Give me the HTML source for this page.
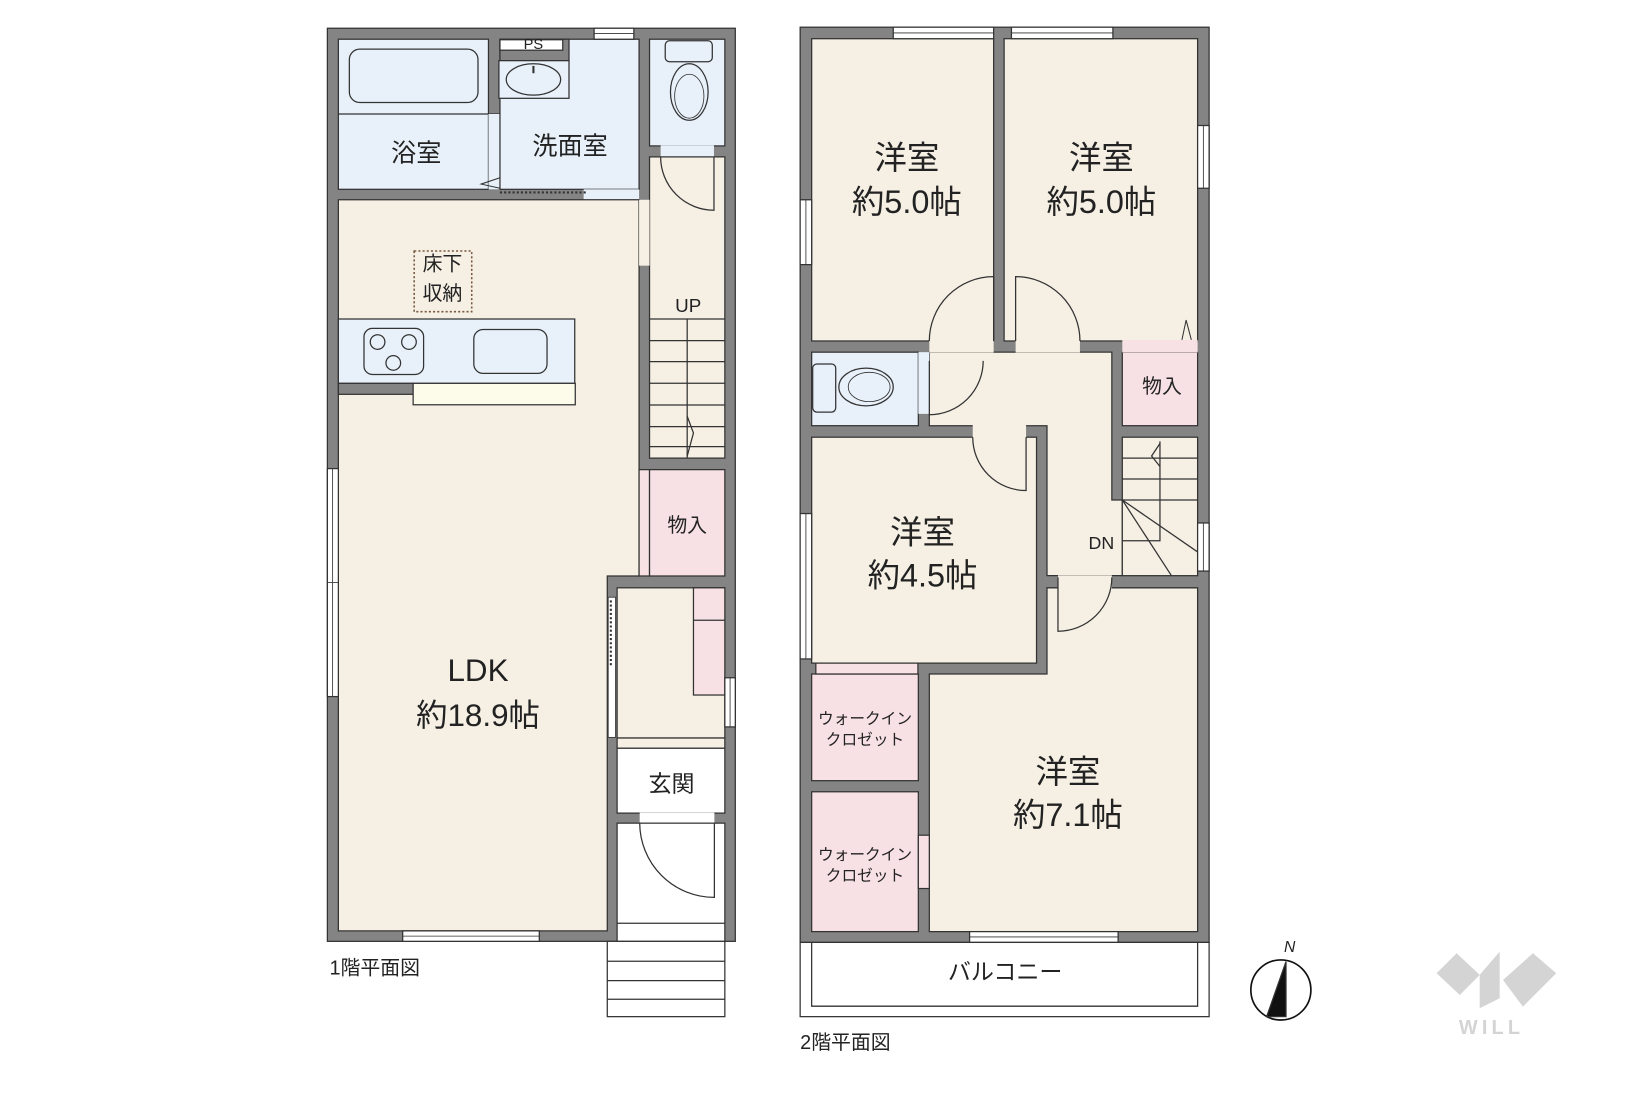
<!DOCTYPE html>
<html><head><meta charset="utf-8"><style>
html,body{margin:0;padding:0;background:#fff;}
svg{display:block;}
text{font-family:"Liberation Sans","Noto Sans CJK JP",sans-serif;fill:#222;text-anchor:middle;dominant-baseline:central;}
</style></head><body>
<svg width="1639" height="1093" viewBox="0 0 1567 1045" preserveAspectRatio="none" xmlns="http://www.w3.org/2000/svg">
<rect x="0" y="0" width="1567" height="1045" fill="#fff"/>
<g stroke="#333" stroke-width="1.2">
<!-- ===== 1F ===== -->
<rect x="313" y="27" width="390" height="873" fill="#848484"/>
<rect x="323.5" y="37.5" width="143.5" height="143.5" fill="#e8f1fa"/>
<line x1="323.5" y1="109" x2="478" y2="109"/>
<rect x="334" y="47" width="123" height="51" rx="10" fill="#e8f1fa"/>
<rect x="467" y="109" width="11" height="72" fill="#e8f1fa" stroke="none"/>
<polyline points="478,170 460,176 478,180" fill="none" stroke-width="1"/>
<rect x="478" y="37.5" width="133" height="143.5" fill="#e8f1fa"/>
<rect x="478" y="37.5" width="66" height="20.5" fill="#848484"/>
<rect x="478" y="38" width="60" height="10" fill="#fff"/>
<rect x="477" y="58" width="67" height="36" fill="#e8f1fa"/>
<ellipse cx="510" cy="76" rx="26" ry="15" fill="#e8f1fa"/>
<line x1="510" y1="63" x2="510" y2="70" stroke-width="2"/>
<rect x="568" y="27" width="38" height="10.5" fill="#fff"/>
<line x1="568" y1="32" x2="606" y2="32" stroke-width="0.8"/>
<rect x="558" y="181" width="53" height="10" fill="#e8f1fa" stroke="none"/>
<line x1="478" y1="184" x2="562" y2="184" stroke-dasharray="2,2" stroke-width="2"/>
<rect x="621" y="37.5" width="72" height="102" fill="#e8f1fa"/>
<rect x="636" y="39" width="45" height="20" rx="4" fill="#e8f1fa"/>
<ellipse cx="659" cy="88" rx="18" ry="27" fill="#e8f1fa"/>
<ellipse cx="659" cy="92" rx="14" ry="21" fill="none" stroke-width="0.8"/>
<rect x="631.6" y="139" width="51" height="11.5" fill="#e8f1fa" stroke="none"/>
<rect x="621" y="150" width="72" height="288" fill="#f5efe4"/>
<path d="M631.6,150 A51,51 0 0 0 682.6,201 L682.6,150" fill="none"/>
<g fill="none">
<line x1="621" y1="305" x2="693" y2="305"/><line x1="621" y1="325.7" x2="693" y2="325.7"/>
<line x1="621" y1="345.8" x2="693" y2="345.8"/><line x1="621" y1="366.4" x2="693" y2="366.4"/>
<line x1="621" y1="387.2" x2="693" y2="387.2"/><line x1="621" y1="407.9" x2="693" y2="407.9"/>
<line x1="621" y1="427" x2="693" y2="427"/>
<line x1="657" y1="305" x2="657" y2="438"/>
<polyline points="657,398 663,414 657,436"/>
</g>
<polygon points="323.5,191 611,191 611,550.7 580.6,550.7 580.6,890 323.5,890" fill="#f5efe4"/>
<rect x="611" y="191" width="10" height="63" fill="#f5efe4" stroke="none"/>
<rect x="323.5" y="305" width="226" height="61.5" fill="#e8f1fa"/>
<rect x="323.5" y="366.5" width="71.5" height="10.5" fill="#848484"/>
<rect x="395" y="366.5" width="155" height="20.5" fill="#fdfbe9"/>
<rect x="348" y="314" width="57" height="44" rx="8" fill="#e8f1fa"/>
<circle cx="361" cy="327" r="7" fill="none"/><circle cx="391" cy="327" r="7" fill="none"/><circle cx="376" cy="347" r="7" fill="none"/>
<rect x="453" y="315" width="70" height="42" rx="9" fill="#e8f1fa"/>
<rect x="396" y="240" width="55" height="58" fill="none" stroke="#7a5a40" stroke-dasharray="2,2" stroke-width="1.5"/>
<rect x="611" y="449" width="10" height="101.7" fill="#f7e1e4"/>
<rect x="621" y="449" width="72" height="101.7" fill="#f7e1e4"/>
<rect x="590" y="562" width="103" height="143.6" fill="#f5efe4"/>
<rect x="663" y="562" width="30" height="102.5" fill="#f7e1e4"/>
<line x1="663" y1="593" x2="693" y2="593"/>
<rect x="581.5" y="571" width="7" height="134" fill="#fff" stroke-width="0.8"/>
<line x1="584" y1="574" x2="584" y2="636" stroke-dasharray="2,2" stroke-width="2"/>
<rect x="590" y="705.6" width="103" height="9.8" fill="#f5efe4"/>
<rect x="590" y="715.4" width="103" height="62" fill="#fff"/>
<rect x="611.6" y="777" width="71.4" height="10" fill="#fff" stroke="none"/>
<rect x="590" y="787" width="103" height="113" fill="#fff"/>
<line x1="590" y1="882.7" x2="693" y2="882.7"/>
<path d="M611.6,787 A71.4,71.4 0 0 0 683,858 L683,787" fill="none"/>
<rect x="385" y="890" width="130.6" height="10" fill="#fff"/>
<line x1="385" y1="895" x2="515.6" y2="895" stroke-width="0.8"/>
<rect x="313" y="448" width="10.5" height="218" fill="#fff"/>
<line x1="318" y1="448" x2="318" y2="666" stroke-width="0.8"/>
<line x1="313" y1="557" x2="323.5" y2="557" stroke-width="0.8"/>
<rect x="693" y="648" width="10" height="47" fill="#fff"/>
<line x1="698" y1="648" x2="698" y2="695" stroke-width="0.8"/>
<rect x="580.6" y="900" width="112.4" height="72" fill="#fff"/>
<line x1="580.6" y1="919" x2="693" y2="919"/><line x1="580.6" y1="937.6" x2="693" y2="937.6"/><line x1="580.6" y1="955.4" x2="693" y2="955.4"/>

<!-- ===== 2F ===== -->
<rect x="765" y="26" width="391" height="875" fill="#848484"/>
<rect x="776" y="37" width="174" height="289" fill="#f5efe4"/>
<rect x="960" y="37" width="185" height="289" fill="#f5efe4"/>
<polyline points="1130,325 1134,306 1139,325" fill="none" stroke-width="1"/>
<polygon points="888.5,336.7 1063,336.7 1063,478 1073,478 1073,550.4 1001,550.4 1001,407 888.5,407" fill="#f5efe4"/>
<rect x="888.5" y="325" width="61.5" height="12" fill="#f5efe4" stroke="none"/>
<rect x="971" y="325" width="61.5" height="12" fill="#f5efe4" stroke="none"/>
<path d="M888.5,326 A61.5,61.5 0 0 1 950,264.5 L950,326" fill="none"/>
<path d="M1032.5,326 A61.5,61.5 0 0 0 971,264.5 L971,326" fill="none"/>
<rect x="776" y="336.7" width="102" height="70.3" fill="#e8f1fa"/>
<rect x="878" y="336.7" width="10.5" height="59" fill="#e8f1fa" stroke="none"/>
<rect x="777" y="348" width="22" height="46" rx="4" fill="#e8f1fa"/>
<ellipse cx="828" cy="370" rx="26" ry="18" fill="#e8f1fa"/>
<ellipse cx="831" cy="370" rx="20" ry="14" fill="none" stroke-width="0.8"/>
<path d="M940,345 A51.5,51.5 0 0 1 888.5,396.5 L888.5,345" fill="none"/>
<rect x="1073" y="336.7" width="72" height="70.3" fill="#f7e1e4"/>
<rect x="1073" y="325" width="72" height="12" fill="#f7e1e4" stroke="none"/>
<rect x="1073" y="418" width="72" height="132.4" fill="#f5efe4"/>
<g fill="none">
<line x1="1073" y1="438" x2="1145" y2="438"/><line x1="1073" y1="458" x2="1145" y2="458"/><line x1="1073" y1="478" x2="1145" y2="478"/>
<line x1="1073" y1="478" x2="1145" y2="527.7"/><line x1="1073" y1="478" x2="1120" y2="550.4"/>
<polyline points="1109,422 1109,517 1073,517"/>
<polyline points="1109,424 1101,436 1109,446"/>
</g>
<rect x="776" y="418" width="215" height="216" fill="#f5efe4"/>
<rect x="930" y="406" width="51" height="13" fill="#f5efe4" stroke="none"/>
<path d="M930,418 A51,51 0 0 0 981,469 L981,418" fill="none"/>
<polygon points="1001,562 1145,562 1145,890.7 888.5,890.7 888.5,644.4 1001,644.4" fill="#f5efe4"/>
<rect x="1011.5" y="550" width="51.5" height="13" fill="#f5efe4" stroke="none"/>
<path d="M1063,552 A51.5,51.5 0 0 1 1011.5,603.5 L1011.5,552" fill="none"/>
<rect x="776" y="644.4" width="102" height="102" fill="#f7e1e4"/>
<rect x="780" y="634" width="97.6" height="10.4" fill="#f7e1e4"/>
<rect x="776" y="757" width="102" height="133.7" fill="#f7e1e4"/>
<rect x="878" y="798.5" width="10.5" height="51" fill="#f7e1e4"/>
<rect x="854" y="26" width="96" height="11" fill="#fff"/><line x1="854" y1="31.5" x2="950" y2="31.5" stroke-width="0.8"/>
<rect x="967" y="26" width="97" height="11" fill="#fff"/><line x1="967" y1="31.5" x2="1064" y2="31.5" stroke-width="0.8"/>
<rect x="1145" y="120" width="11" height="60" fill="#fff"/><line x1="1150.5" y1="120" x2="1150.5" y2="180" stroke-width="0.8"/>
<rect x="765" y="191" width="11" height="62" fill="#fff"/><line x1="770.5" y1="191" x2="770.5" y2="253" stroke-width="0.8"/>
<rect x="765" y="491" width="11" height="139" fill="#fff"/><line x1="770.5" y1="491" x2="770.5" y2="630" stroke-width="0.8"/>
<rect x="1145" y="500" width="11" height="46" fill="#fff"/><line x1="1150.5" y1="500" x2="1150.5" y2="546" stroke-width="0.8"/>
<rect x="927" y="890.7" width="142" height="10.3" fill="#fff"/><line x1="927" y1="895.8" x2="1069" y2="895.8" stroke-width="0.8"/>
<rect x="765" y="901" width="391" height="71" fill="#fff"/>
<polyline points="776,901 776,962 1145,962 1145,901" fill="none"/>
<circle cx="1224.6" cy="946.5" r="28.7" fill="#fff" stroke="#111" stroke-width="1.6"/>
<polygon points="1229.5,919.4 1211,972 1229.5,972" fill="#111"/>
</g>
<text x="1233" y="906" font-size="15" font-style="italic">N</text>
<g fill="#d4d4d4">
<polygon points="1373.5,930.5 1392.6,911.4 1414.7,932.1 1395.7,951.3"/>
<polygon points="1414.7,932.1 1433.8,909.8 1433.8,954.4 1414.7,964"/>
<polygon points="1437,937 1465.6,911.4 1487.9,930.5 1456,962.4"/>
</g>
<text x="1426" y="983" font-size="19" font-weight="bold" letter-spacing="4" style="fill:#d4d4d4">WILL</text>

<text x="398" y="147" font-size="24">浴室</text>
<text x="545" y="140" font-size="24">洗面室</text>
<text x="510" y="43" font-size="14">PS</text>
<text x="423" y="253" font-size="19">床下</text>
<text x="423" y="281" font-size="19">収納</text>
<text x="658" y="292" font-size="18">UP</text>
<text x="657" y="503" font-size="19">物入</text>
<text x="642" y="749" font-size="22">玄関</text>
<text x="457" y="641" font-size="30">LDK</text>
<text x="457" y="684" font-size="30">約18.9帖</text>
<text x="315" y="926" font-size="19" style="text-anchor:start">1階平面図</text>
<text x="867" y="151" font-size="31">洋室</text>
<text x="867" y="193" font-size="31">約5.0帖</text>
<text x="1053" y="151" font-size="31">洋室</text>
<text x="1053" y="193" font-size="31">約5.0帖</text>
<text x="882" y="509" font-size="31">洋室</text>
<text x="882" y="550" font-size="31">約4.5帖</text>
<text x="1021" y="738" font-size="31">洋室</text>
<text x="1021" y="779" font-size="31">約7.1帖</text>
<text x="1111" y="370" font-size="19">物入</text>
<text x="1053" y="519" font-size="17">DN</text>
<text x="827" y="688" font-size="15">ウォークイン</text>
<text x="827" y="708" font-size="15">クロゼット</text>
<text x="827" y="818" font-size="15">ウォークイン</text>
<text x="827" y="838" font-size="15">クロゼット</text>
<text x="961" y="929" font-size="22">バルコニー</text>
<text x="765" y="997" font-size="19" style="text-anchor:start">2階平面図</text>
</svg>
</body></html>
